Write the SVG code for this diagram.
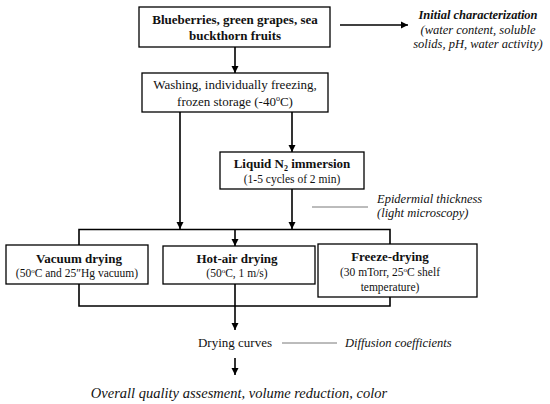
<svg xmlns="http://www.w3.org/2000/svg" width="550" height="404" viewBox="0 0 550 404">
<defs>
<marker id="ah" markerWidth="8" markerHeight="8" refX="7" refY="4" orient="auto" markerUnits="userSpaceOnUse">
<path d="M0,0.5 L7,4 L0,7.5 Z" fill="#000"/>
</marker>
</defs>
<style>
.box{fill:#fff;stroke:#000;stroke-width:1.3}
.t{font-family:"Liberation Serif","Times New Roman",serif;fill:#111;text-anchor:middle}
.b{font-weight:bold;font-size:13px}
.r{font-size:13px}
.s{font-size:11.5px}
.i{font-style:italic;font-size:12.5px}
.ln{fill:none;stroke:#000;stroke-width:1.6}
.ar{fill:none;stroke:#000;stroke-width:1.6;marker-end:url(#ah)}
.thin{fill:none;stroke:#555;stroke-width:0.8}
</style>
<rect width="550" height="404" fill="#fff"/>
<g id="connectors">
<line class="ar" x1="235" y1="47" x2="235" y2="73"/>
<line class="ar" x1="340" y1="25" x2="408" y2="25"/>
<line class="ar" x1="180" y1="112" x2="180" y2="229"/>
<line class="ar" x1="292" y1="112" x2="292" y2="152"/>
<line class="ar" x1="292" y1="189" x2="292" y2="229"/>
<polyline class="ln" points="79,245 79,229.5 390,229.5 390,244"/>
<line class="ar" x1="235" y1="229" x2="235" y2="246"/>
<polyline class="ln" points="79,284 79,306 390,306 390,297"/>
<line class="ar" x1="235" y1="284" x2="235" y2="330"/>
<line class="ar" x1="235" y1="358" x2="235" y2="375"/>
<line class="thin" x1="312" y1="207" x2="368" y2="207"/>
<line class="thin" x1="282" y1="343" x2="337" y2="343"/>
</g>
<g id="n-fruits">
<rect class="box" x="139" y="7" width="191" height="40"/>
<text class="t b" x="235" y="24">Blueberries, green grapes, sea</text>
<text class="t b" x="235" y="40">buckthorn fruits</text>
</g>
<g id="n-initial">
<text class="t i" x="478" y="19" font-weight="bold">Initial characterization</text>
<text class="t i" x="478" y="34">(water content, soluble</text>
<text class="t i" x="478" y="48">solids, pH, water activity)</text>
</g>
<g id="n-washing">
<rect class="box" x="142" y="73" width="186" height="39"/>
<text class="t r" x="235" y="89">Washing, individually freezing,</text>
<text class="t r" x="235" y="106">frozen storage (-40<tspan font-size="8" dy="-5">o</tspan><tspan dy="5">C)</tspan></text>
</g>
<g id="n-liquid">
<rect class="box" x="220" y="152" width="144" height="37"/>
<text class="t b" x="292" y="168">Liquid N<tspan font-size="8" dy="3">2</tspan><tspan dy="-3"> immersion</tspan></text>
<text class="t s" x="292" y="183">(1-5 cycles of 2 min)</text>
</g>
<g id="n-epidermial">
<text class="t i" x="377" y="203" style="text-anchor:start">Epidermial thickness</text>
<text class="t i" x="377" y="217" style="text-anchor:start">(light microscopy)</text>
</g>
<g id="n-vacuum">
<rect class="box" x="6" y="245" width="142" height="39"/>
<text class="t b" x="79" y="263">Vacuum drying</text>
<text class="t s" x="77" y="277">(50<tspan font-size="7" dy="-4">o</tspan><tspan dy="4">C and 25″Hg vacuum)</tspan></text>
</g>
<g id="n-hotair">
<rect class="box" x="163" y="246" width="152" height="38"/>
<text class="t b" x="237" y="263">Hot-air drying</text>
<text class="t s" x="237" y="277">(50<tspan font-size="7" dy="-4">o</tspan><tspan dy="4">C, 1 m/s)</tspan></text>
</g>
<g id="n-freeze">
<rect class="box" x="318" y="244" width="159" height="53"/>
<text class="t b" x="390" y="261">Freeze-drying</text>
<text class="t s" x="390" y="276">(30 mTorr, 25<tspan font-size="7" dy="-4">o</tspan><tspan dy="4">C shelf</tspan></text>
<text class="t s" x="390" y="291">temperature)</text>
</g>
<g id="n-drying-curves">
<text class="t r" x="235" y="347">Drying  curves</text>
</g>
<g id="n-diffusion">
<text class="t i" x="345" y="347" style="text-anchor:start">Diffusion coefficients</text>
</g>
<g id="n-overall">
<text class="t i" x="239" y="398" style="font-size:14.5px">Overall quality assesment, volume reduction, color</text>
</g>
</svg>
